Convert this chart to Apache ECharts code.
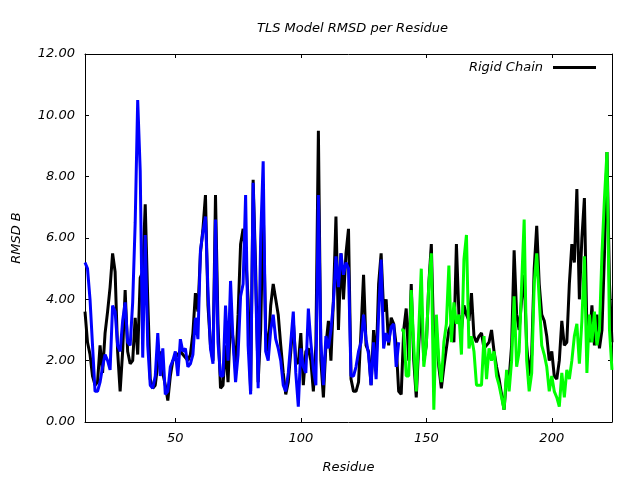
<!DOCTYPE html>
<html>
<head>
<meta charset="utf-8">
<script src="https://cdn.jsdelivr.net/npm/echarts@6/dist/echarts.min.js"></script>
<style>html,body{margin:0;padding:0;background:#fff}#c{width:640px;height:480px}</style>
</head>
<body>
<div id="c"></div>
<script>
const rigidStart = 14;
const rigidValues = [
  3.6,2.6,2.2,1.5,1.2,1.3,2.5,1.6,2.9,3.6,4.4,5.5,4.9,2.3,1.0,2.3,4.3,2.3,1.9,2.0,3.4,2.2,4.7,4.9,7.1,4.0,1.4,1.1,1.2,1.9,2.3,1.6,1.2,0.7,1.5,2.0,
  2.1,2.2,2.3,2.2,2.1,2.0,2.2,2.9,4.2,3.6,5.5,6.3,7.4,3.8,2.5,2.0,7.4,3.2,1.1,1.2,2.5,1.3,3.4,2.7,1.7,3.5,5.8,6.3,5.5,4.0,1.0,7.9,5.0,1.3,3.0,
  7.0,3.0,2.3,3.8,4.5,4.0,3.5,2.5,1.6,0.9,1.3,2.3,3.3,2.0,1.9,2.9,1.2,2.3,2.4,2.0,1.0,2.5,9.5,2.0,0.8,2.5,3.3,2.0,4.0,6.7,3.0,5.5,4.0,5.5,6.3,
  1.4,1.0,1.0,1.3,3.0,4.8,2.5,2.3,1.2,3.0,1.8,4.5,5.5,3.6,4.0,2.5,3.4,3.2,2.5,1.0,0.9,3.0,3.7,2.0,4.5,2.0,0.8,2.5,4.0,2.0,2.5,4.5,5.8,2.5,3.0,
  1.8,1.1,1.8,2.4,3.0,3.2,2.6,5.8,3.5,3.0,3.8,3.5,3.3,4.2,2.8,2.6,2.8,2.9,2.4,2.5,2.6,3.0,2.3,1.8,1.4,0.9,0.4,1.5,1.4,2.5,5.6,3.5,3.0,4.0,4.8,
  2.5,1.5,2.2,5.0,6.4,4.5,3.5,3.3,2.8,2.0,2.3,1.5,1.4,2.0,3.3,2.5,2.6,4.5,5.8,5.2,7.6,4.0,6.0,7.3,3.0,2.6,3.8,2.5,3.5,2.4,3.0,5.5,8.8,4.5,2.6
];
const blueStart = 14;
const blueValues = [
  5.2,5.0,4.0,2.5,1.0,1.0,1.3,1.8,2.2,2.0,1.7,3.8,3.6,2.5,2.3,3.3,3.9,2.6,2.5,3.9,6.5,10.5,8.2,2.1,6.1,2.5,1.2,1.1,1.5,2.9,1.5,2.4,0.9,1.0,1.8,2.0,
  2.3,1.5,2.7,2.3,2.4,1.8,1.9,2.2,3.4,2.7,5.6,6.2,6.7,4.3,2.4,1.9,6.6,2.6,1.5,1.5,3.8,2.0,4.6,2.6,1.3,2.2,4.1,4.5,7.4,2.5,0.9,7.8,4.5,1.1,6.0,
  8.5,2.3,2.0,3.0,3.5,2.7,2.4,2.0,1.2,1.0,1.6,2.6,3.6,1.6,0.5,2.4,1.8,1.6,3.7,2.6,1.7,1.2,7.4,2.6,1.2,2.8,2.4,3.0,3.9,5.4,4.4,5.5,4.8,5.2,5.0,
  1.5,1.5,1.8,2.3,2.6,3.5,2.7,2.2,1.2,2.6,1.4,3.5,5.3,2.4,2.9,2.6,3.1,3.2,1.8,2.6
];
const greenStart = 140;
const greenValues = [
  3.0,3.0,1.5,1.5,4.3,2.5,1.0,3.0,5.0,1.8,2.5,4.5,5.5,0.4,3.5,
  2.0,1.3,2.6,3.2,5.1,2.6,3.9,3.2,3.5,2.2,5.3,6.1,2.4,2.8,2.3,1.2,1.2,1.2,2.8,1.4,2.4,2.0,2.3,1.5,1.2,0.8,0.4,1.7,1.0,2.0,4.1,1.8,2.3,4.5,6.6,
  2.0,1.0,1.6,4.5,5.5,4.0,2.5,2.2,1.8,1.0,1.5,1.0,0.8,0.5,1.6,0.8,1.7,1.4,2.0,2.8,3.2,1.9,3.3,5.4,1.6,3.5,2.6,3.6,2.5,3.0,5.5,7.3,8.8,3.0,1.7
];
const xTicks = [50, 100, 150, 200];

function pairs(start, vals) { return vals.map((v, i) => [start + i, v]); }

const FONT = 'DejaVu Sans';
const txt = {fontFamily: FONT, fontStyle: 'italic', fontSize: 13, color: '#000'};
const chart = echarts.init(document.getElementById('c'), null, {renderer: 'canvas'});
const xBase = {
  type: 'value', min: 14, max: 224,
  splitLine: {show: false},
  axisLine: {show: true, onZero: false, lineStyle: {color: '#000', width: 1}}
};
const yBase = {
  type: 'value', min: 0, max: 12, interval: 2,
  splitLine: {show: false},
  axisLine: {show: true, onZero: false, lineStyle: {color: '#000', width: 1}}
};
chart.setOption({
  animation: false,
  backgroundColor: '#fff',
  title: {
    text: 'TLS Model RMSD per Residue',
    left: 252, top: 17,
    textStyle: Object.assign({}, txt, {fontWeight: 'normal'})
  },
  legend: {
    data: ['Rigid Chain'],
    right: 39, top: 56,
    align: 'right',
    icon: 'rect',
    itemWidth: 43, itemHeight: 3,
    itemStyle: {color: '#000'},
    textStyle: Object.assign({}, txt, {padding: [0, 5, 0, 0]})
  },
  grid: {left: 85, right: 28, top: 54, bottom: 58, containLabel: false},
  xAxis: [
    Object.assign({}, xBase, {
      position: 'bottom',
      name: 'Residue', nameLocation: 'middle', nameGap: 39,
      nameTextStyle: txt,
      axisTick: {show: true, inside: true, length: 4, customValues: xTicks, lineStyle: {color: '#000'}},
      axisLabel: Object.assign({}, txt, {margin: 10, customValues: xTicks})
    }),
    Object.assign({}, xBase, {
      position: 'top',
      axisTick: {show: true, inside: true, length: 4, customValues: xTicks, lineStyle: {color: '#000'}},
      axisLabel: {show: false, customValues: xTicks}
    })
  ],
  yAxis: [
    Object.assign({}, yBase, {
      position: 'left',
      name: 'RMSD B', nameLocation: 'middle', nameGap: 62, nameRotate: 90,
      nameTextStyle: txt,
      axisTick: {show: true, inside: true, length: 4, lineStyle: {color: '#000'}},
      axisLabel: Object.assign({}, txt, {margin: 10, formatter: v => v.toFixed(2)})
    }),
    Object.assign({}, yBase, {
      position: 'right',
      axisTick: {show: true, inside: true, length: 4, lineStyle: {color: '#000'}},
      axisLabel: {show: false}
    })
  ],
  series: [
    {name: 'Rigid Chain', type: 'line', data: pairs(rigidStart, rigidValues), showSymbol: false, symbol: 'none',
     lineStyle: {color: '#000', width: 3}, itemStyle: {color: '#000'}, z: 2},
    {name: 'Chain A', type: 'line', data: pairs(blueStart, blueValues), showSymbol: false, symbol: 'none',
     lineStyle: {color: '#0000ff', width: 3}, itemStyle: {color: '#0000ff'}, z: 3},
    {name: 'Chain B', type: 'line', data: pairs(greenStart, greenValues), showSymbol: false, symbol: 'none',
     lineStyle: {color: '#00ff00', width: 3}, itemStyle: {color: '#00ff00'}, z: 4}
  ]
});
</script>
</body>
</html>
